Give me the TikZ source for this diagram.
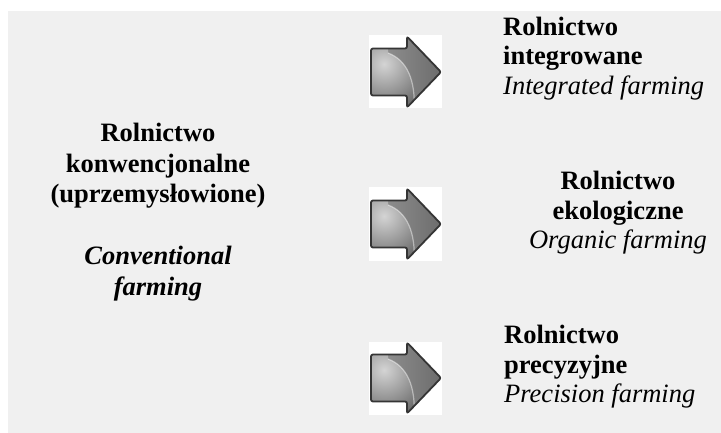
\documentclass[tikz,border=0pt]{standalone}
\usepackage{fontspec}
\setmainfont{Liberation Serif}
\definecolor{panel}{HTML}{F0F0F0}
\definecolor{edge}{HTML}{353535}
\definecolor{hl}{HTML}{D4D4D4}
\definecolor{dk}{HTML}{4A4A4A}
\definecolor{hdA}{HTML}{9A9A9A}
\definecolor{hdB}{HTML}{6A6A6A}
\begin{document}
\begin{tikzpicture}[x=1pt,y=-1pt,
  bf/.style={inner sep=0pt,font=\fontsize{26.5}{29.5}\selectfont\bfseries},
  itx/.style={inner sep=0pt,font=\fontsize{26.5}{29.5}\selectfont\itshape},
  bix/.style={inner sep=0pt,font=\fontsize{26.5}{29.5}\selectfont\bfseries\itshape},
  square/.style={fill=white,draw=none,minimum size=73pt,inner sep=0pt},
  outline/.style={draw=edge,line width=1.8pt,rounded corners=2pt,line join=round}]
\useasboundingbox (0,0) rectangle (721,433);
\fill[white] (0,0) rectangle (721,433);
\fill[panel] (8,11) rectangle (721,433);

% left block
\node[bf,anchor=base] (c1) at (158,142) {Rolnictwo};
\node[bf,anchor=base] (c2) at (158,173) {konwencjonalne};
\node[bf,anchor=base] (c3) at (158,203) {(uprzemysłowione)};
\node[bix,anchor=base] (c4) at (158,265) {Conventional};
\node[bix,anchor=base] (c5) at (158,295) {farming};

% right blocks
\node[bf,anchor=base west] (t1) at (503,36) {Rolnictwo};
\node[bf,anchor=base west] (t2) at (503,65) {integrowane};
\node[itx,anchor=base west] (t3) at (503,95) {Integrated farming};

\node[bf,anchor=base] (m1) at (618,190) {Rolnictwo};
\node[bf,anchor=base] (m2) at (618,219) {ekologiczne};
\node[itx,anchor=base] (m3) at (618,248) {Organic farming};

\node[bf,anchor=base west] (b1) at (504,343) {Rolnictwo};
\node[bf,anchor=base west] (b2) at (504,373) {precyzyjne};
\node[itx,anchor=base west] (b3) at (504,402) {Precision farming};

% block arrows
\foreach \n/\cy in {a1/72,a2/224,a3/378}{
  \node[square] (\n) at (405.5,\cy) {};
  \begin{scope}
    \clip[rounded corners=2pt] (371,\cy-23.5) -- (407,\cy-23.5) -- (407,\cy-35.5) -- (441,\cy) -- (407,\cy+35.5) -- (407,\cy+23.5) -- (371,\cy+23.5) -- cycle;
    \shade[left color=hdA,right color=hdB] (365,\cy-40) rectangle (445,\cy+40);
    \begin{scope}
      \clip (360,\cy-40) -- (388,\cy-40) -- (388,\cy-19) .. controls (407,\cy-12) and (416,\cy+8) .. (414,\cy+40) -- (360,\cy+40) -- cycle;
      \shade[inner color=hl,outer color=dk] (384,\cy-8) circle (62);
    \end{scope}
    \draw[white,opacity=0.45,line width=1.2pt] (388,\cy-19) .. controls (407,\cy-12) and (416,\cy+8) .. (414,\cy+40);
  \end{scope}
  \draw[outline] (371,\cy-23.5) -- (407,\cy-23.5) -- (407,\cy-35.5) -- (441,\cy) -- (407,\cy+35.5) -- (407,\cy+23.5) -- (371,\cy+23.5) -- cycle;
}
\end{tikzpicture}
\end{document}
